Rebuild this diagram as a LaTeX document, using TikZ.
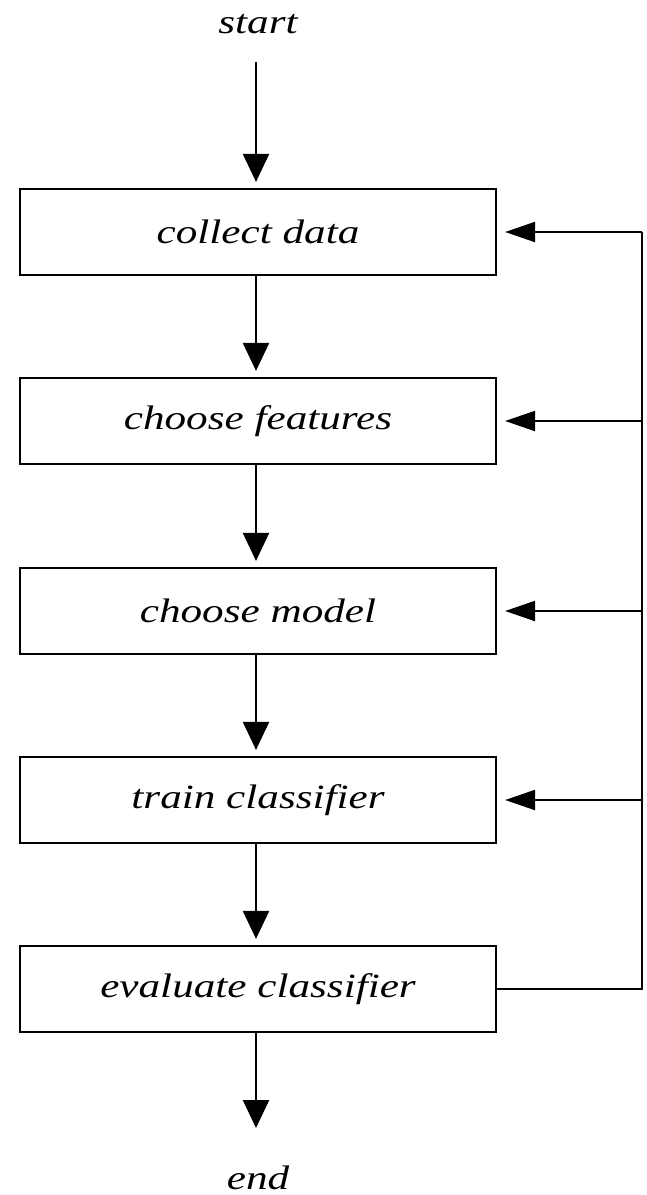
\documentclass[tikz,border=0pt]{standalone}
\usepackage{fontspec}
\setmainfont{Liberation Serif}
\usetikzlibrary{arrows.meta}
\newcommand{\wide}[1]{\scalebox{1.27}[1]{#1}}
\begin{document}
\begin{tikzpicture}[x=1pt,y=-1pt,
  line width=2.2pt,
  vtip/.style={-{Triangle[length=28pt,width=26pt]},shorten >=6pt},
  htip/.style={-{Triangle[length=30pt,width=20pt]},shorten >=8pt},
  stage/.style={draw,line width=2.2pt,minimum width=476pt,minimum height=86pt,
    inner sep=0pt,font=\fontsize{34}{40}\selectfont\itshape},
  term/.style={inner sep=0pt,font=\fontsize{34}{40}\selectfont\itshape}]
\useasboundingbox (0,0) rectangle (647,1195);
% terminals and the five stages of the loop
\node[term,anchor=base] (start) at (258,33) {\wide{start}};
\node[stage] (collect) at (258,232) {\wide{collect data}};
\node[stage] (features) at (258,421) {\wide{choose features}};
\node[stage] (model) at (258,611) {\wide{choose model}};
\node[stage] (train) at (258,800) {\wide{train classifier}};
\node[stage] (eval) at (258,989) {\wide{evaluate classifier}};
\node[term,anchor=base] (end) at (258,1189) {\wide{end}};
\coordinate (starttop) at (256,62);
\coordinate (endtip) at (256,1134);
\coordinate (rt) at (642,232);
\coordinate (rf) at (642,421);
\coordinate (rm) at (642,611);
\coordinate (rc) at (642,800);
\coordinate (rb) at (642,989);
% main flow
\draw[vtip] (starttop) -- (collect.north -| starttop);
\draw[vtip] (collect.south -| starttop) -- (features.north -| starttop);
\draw[vtip] (features.south -| starttop) -- (model.north -| starttop);
\draw[vtip] (model.south -| starttop) -- (train.north -| starttop);
\draw[vtip] (train.south -| starttop) -- (eval.north -| starttop);
\draw[vtip] (eval.south -| starttop) -- (endtip);
% feedback from evaluation back to every earlier stage
\draw (eval.east) -- (rb) -- (rt);
\draw[htip] (rt) -- (collect.east);
\draw[htip] (rf) -- (features.east);
\draw[htip] (rm) -- (model.east);
\draw[htip] (rc) -- (train.east);
\end{tikzpicture}
\end{document}
